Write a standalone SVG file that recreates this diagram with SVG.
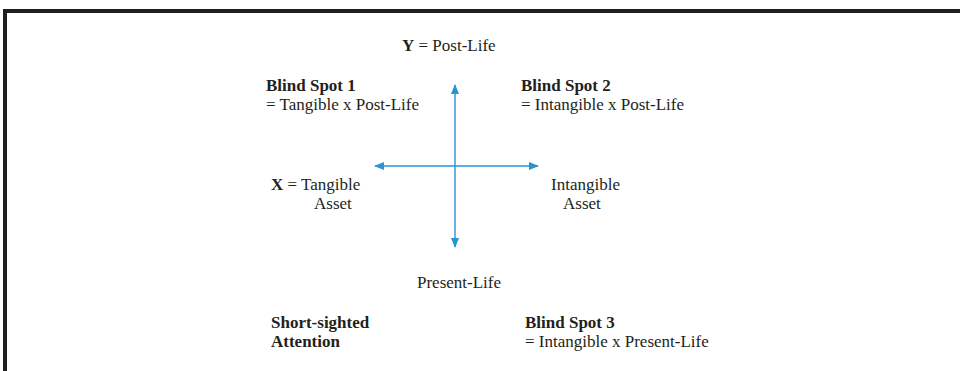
<svg xmlns="http://www.w3.org/2000/svg" width="960" height="371" viewBox="0 0 960 371">
<style>
text{font-family:"Liberation Serif","Times New Roman",serif;font-size:17px;fill:#231f20}
.b{font-weight:bold}
.ax{stroke:#2a94d0;stroke-width:1.4;fill:none}
</style>
<defs>
<marker id="ah" viewBox="0 0 10 10" refX="9" refY="5" markerWidth="10" markerHeight="10" markerUnits="userSpaceOnUse" orient="auto">
<path d="M0,1 L10,5 L0,9 Z" fill="#2a94d0"/>
</marker>
</defs>
<rect width="960" height="371" fill="#fff"/>
<path d="M5,371 V11 H960" fill="none" stroke="#231f20" stroke-width="4"/>
<g id="connectors">
<line class="ax" x1="455" y1="166" x2="455" y2="85" marker-end="url(#ah)"/>
<line class="ax" x1="455" y1="166" x2="455" y2="247" marker-end="url(#ah)"/>
<line class="ax" x1="455" y1="166" x2="375" y2="166" marker-end="url(#ah)"/>
<line class="ax" x1="455" y1="166" x2="538" y2="166" marker-end="url(#ah)"/>
</g>
<g id="y-label"><text x="402" y="51"><tspan class="b">Y</tspan> = Post-Life</text></g>
<g id="blind-spot-1"><text x="266" y="91" class="b">Blind Spot 1</text><text x="266" y="110">= Tangible x Post-Life</text></g>
<g id="blind-spot-2"><text x="521" y="91" class="b">Blind Spot 2</text><text x="521" y="110">= Intangible x Post-Life</text></g>
<g id="x-label"><text x="271" y="190"><tspan class="b">X</tspan> = Tangible</text><text x="314" y="209">Asset</text></g>
<g id="intangible"><text x="551" y="190">Intangible</text><text x="563" y="209">Asset</text></g>
<g id="present-life"><text x="417" y="288">Present-Life</text></g>
<g id="short-sighted"><text x="271" y="328" class="b">Short-sighted</text><text x="271" y="347" class="b">Attention</text></g>
<g id="blind-spot-3"><text x="525" y="328" class="b">Blind Spot 3</text><text x="525" y="347">= Intangible x Present-Life</text></g>
</svg>
